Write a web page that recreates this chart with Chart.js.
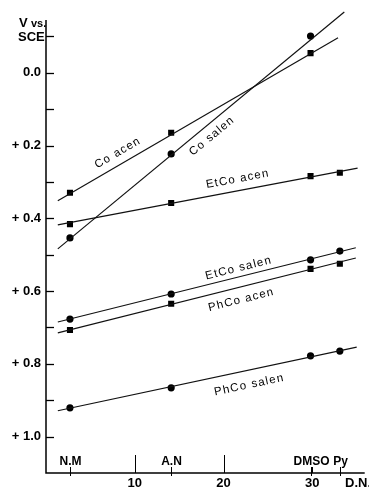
<!DOCTYPE html>
<html>
<head>
<meta charset="utf-8">
<script src="https://cdn.jsdelivr.net/npm/chart.js@4"></script>
<style>
  html, body { margin: 0; padding: 0; background: #fff; }
  #grafico { display: block; }
</style>
</head>
<body>
<canvas id="grafico" width="369" height="488"></canvas>
<script>
// solvent donor numbers (x) and names
var solventDN = [2.7, 14.1, 29.8, 33.1];
var solventNames = ['N.M', 'A.N', 'DMSO', 'Py'];

// half-wave potentials, V vs. SCE
var coAcen    = [0.330, 0.165, -0.054];
var coSalen   = [0.454, 0.223, -0.101];
var etCoAcen  = [0.416, 0.358, 0.284, 0.275];
var etCoSalen = [0.677, 0.608, 0.514, 0.490];
var phCoAcen  = [0.707, 0.635, 0.539, 0.525];
var phCoSalen = [0.921, 0.866, 0.778, 0.765];

// drawn straight lines: [x start, y start, x end, y end]
var coAcenLine    = [1.33, 0.352, 32.9, -0.096];
var coSalenLine   = [1.33, 0.484, 33.6, -0.167];
var etCoAcenLine  = [1.33, 0.418, 35.1, 0.262];
var etCoSalenLine = [1.33, 0.685, 34.9, 0.481];
var phCoAcenLine  = [1.33, 0.715, 34.9, 0.509];
var phCoSalenLine = [1.33, 0.929, 35.0, 0.754];

var yTicks = [-0.1, 0.0, 0.1, 0.2, 0.3, 0.4, 0.5, 0.6, 0.7, 0.8, 0.9, 1.0];
var xTicks = [10, 20, 30];

// series names and where the text sits (data coords)
var seriesNames = ['Co acen', 'Co salen', 'EtCo acen', 'EtCo salen', 'PhCo acen', 'PhCo salen'];
var labelX = [8.1, 18.7, 21.6, 21.7, 22.0, 22.9];
var labelY = [0.22, 0.174, 0.292, 0.537, 0.624, 0.858];

var seriesVals = [coAcen, coSalen, etCoAcen, etCoSalen, phCoAcen, phCoSalen];
var seriesLines = [coAcenLine, coSalenLine, etCoAcenLine, etCoSalenLine, phCoAcenLine, phCoSalenLine];
var seriesStyle = ['rect', 'circle', 'rect', 'circle', 'rect', 'circle'];

var datasets = [];
seriesVals.forEach(function (vals, i) {
  var ln = seriesLines[i];
  datasets.push({
    data: [{x: ln[0], y: ln[1]}, {x: ln[2], y: ln[3]}],
    showLine: true,
    borderColor: '#111',
    borderWidth: 1.2,
    pointRadius: 0,
    clip: false
  });
  datasets.push({
    data: vals.map(function (v, j) { return {x: solventDN[j], y: v}; }),
    showLine: false,
    pointStyle: seriesStyle[i],
    pointRadius: seriesStyle[i] == 'rect' ? 4.3 : 3.6,
    backgroundColor: '#000',
    borderColor: '#000',
    borderWidth: 0
  });
});

var FONT = '"Liberation Sans", Arial, sans-serif';

var extras = {
  id: 'extras',
  afterDraw: function (chart) {
    var ctx = chart.ctx;
    var xs = chart.scales.x, ys = chart.scales.y;
    var a = chart.chartArea;
    ctx.save();
    ctx.strokeStyle = '#000';
    ctx.fillStyle = '#000';
    ctx.lineWidth = 1.5;
    // axes
    ctx.beginPath();
    ctx.moveTo(a.left, a.top);
    ctx.lineTo(a.left, a.bottom);
    ctx.lineTo(a.right, a.bottom);
    ctx.stroke();
    // y ticks, inward
    ctx.lineWidth = 1.3;
    yTicks.forEach(function (v) {
      var py = Math.round(ys.getPixelForValue(v)) + 0.5;
      ctx.beginPath();
      ctx.moveTo(a.left, py);
      ctx.lineTo(a.left + 8, py);
      ctx.stroke();
    });
    // x ticks, inward
    ctx.lineWidth = 1;
    xTicks.forEach(function (v) {
      var px = Math.round(xs.getPixelForValue(v)) + 0.5;
      ctx.beginPath();
      ctx.moveTo(px, a.bottom);
      ctx.lineTo(px, a.bottom - (v == 30 ? 6 : 18));
      ctx.stroke();
    });
    // solvent markers and names
    ctx.font = 'bold 12px ' + FONT;
    ctx.textAlign = 'center';
    ctx.textBaseline = 'middle';
    solventDN.forEach(function (v, j) {
      var px = Math.round(xs.getPixelForValue(v)) + 0.5;
      ctx.beginPath();
      ctx.moveTo(px, a.bottom - 6);
      ctx.lineTo(px, a.bottom + 3);
      ctx.stroke();
      ctx.fillText(solventNames[j], px, a.bottom - 11);
    });
    // D.N. label
    ctx.font = 'bold 13px ' + FONT;
    ctx.textAlign = 'left';
    ctx.fillText('D.N.', 345, a.bottom + 10);
    // y axis title
    ctx.textAlign = 'left';
    ctx.font = 'bold 13px ' + FONT;
    ctx.fillText('V', 19, 23);
    ctx.font = 'bold 11px ' + FONT;
    ctx.fillText('vs.', 31, 24);
    ctx.font = 'bold 13px ' + FONT;
    ctx.fillText('SCE', 18, 37);
    // series names along their lines
    ctx.font = '11.5px ' + FONT;
    ctx.textAlign = 'center';
    ctx.textBaseline = 'middle';
    seriesNames.forEach(function (name, i) {
      var ln = seriesLines[i];
      var dx = xs.getPixelForValue(ln[2]) - xs.getPixelForValue(ln[0]);
      var dy = ys.getPixelForValue(ln[3]) - ys.getPixelForValue(ln[1]);
      ctx.save();
      ctx.translate(xs.getPixelForValue(labelX[i]), ys.getPixelForValue(labelY[i]));
      ctx.rotate(Math.atan2(dy, dx));
      ctx.letterSpacing = '1.2px';
      ctx.fillText(name, 0, 0);
      ctx.restore();
    });
    ctx.restore();
  }
};

var myChart = new Chart(document.getElementById('grafico').getContext('2d'), {
  type: 'scatter',
  data: { datasets: datasets },
  options: {
    responsive: false,
    animation: false,
    devicePixelRatio: 1,
    layout: { padding: { top: 20, left: 0, right: 0, bottom: 0 } },
    plugins: { legend: { display: false }, tooltip: { enabled: false } },
    scales: {
      x: {
        type: 'linear',
        min: 0,
        max: 35.9,
        afterBuildTicks: function (s) { s.ticks = xTicks.map(function (v) { return {value: v}; }); },
        afterFit: function (s) { s.height = 15; },
        grid: { display: false, drawTicks: false },
        border: { display: false },
        ticks: {
          padding: 3,
          color: '#000',
          font: { family: FONT, size: 13, weight: 'bold' }
        }
      },
      y: {
        type: 'linear',
        reverse: true,
        min: -0.145,
        max: 1.1,
        afterBuildTicks: function (s) { s.ticks = yTicks.map(function (v) { return {value: v}; }); },
        afterFit: function (s) { s.width = 46; },
        grid: { display: false, drawTicks: false },
        border: { display: false },
        ticks: {
          padding: 5,
          color: '#000',
          font: { family: FONT, size: 13, weight: 'bold' },
          callback: function (v) {
            var t = Math.round(v * 10);
            if (t < 0 || t % 2 != 0) return '';
            if (t == 0) return '0.0';
            return '+ ' + (t / 10).toFixed(1);
          }
        }
      }
    }
  },
  plugins: [extras]
});
</script>
</body>
</html>
